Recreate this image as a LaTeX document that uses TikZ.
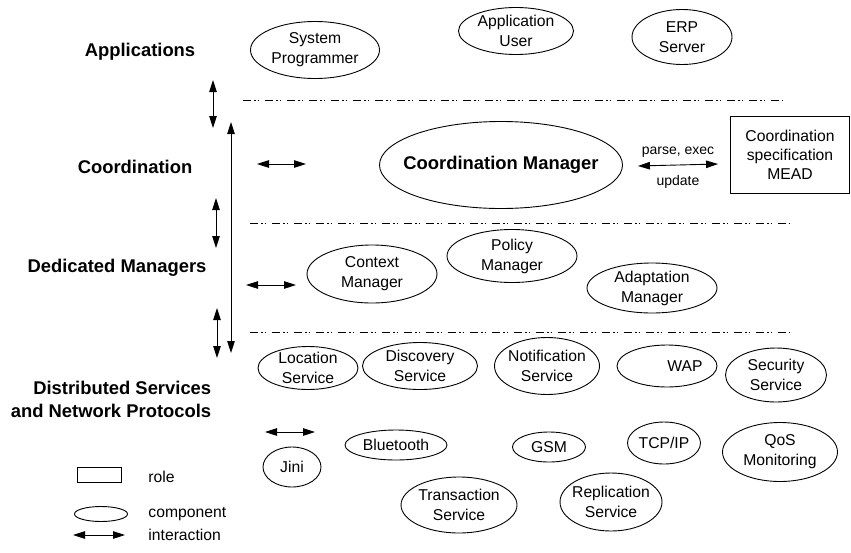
\documentclass[tikz,border=0pt]{standalone}
\usepackage{fontspec}
\setmainfont{Liberation Sans}
\usetikzlibrary{arrows.meta,shapes.geometric}

\tikzset{
  comp/.style={draw, ellipse, inner sep=-4pt, align=center,
    font=\fontsize{15.7}{20}\selectfont},
  role/.style={draw, rectangle, inner sep=0pt, align=center,
    font=\fontsize{15.7}{19}\selectfont},
  keytext/.style={anchor=west, inner sep=0pt, font=\fontsize{15.7}{20}\selectfont},
  layer/.style={font=\bfseries\fontsize{18.4}{23}\selectfont, align=right},
  small/.style={font=\fontsize{14}{16}\selectfont},
  inter/.style={{Triangle[length=12pt,width=7.5pt]}-{Triangle[length=12pt,width=7.5pt]}},
  tier/.style={dash pattern=on 8pt off 3pt on 1.5pt off 2pt on 1.5pt off 6pt}
}

\begin{document}
\begin{tikzpicture}[x=1pt, y=-1pt, line width=0.9pt]
\useasboundingbox (0,0) rectangle (851,552);

% layer names
\node[layer] (Lapp) at (140,52) {Applications};
\node[layer] (Lcoord) at (135,167) {Coordination};
\node[layer] (Lded) at (117,268) {Dedicated Managers};
\node[layer, anchor=east] (Ldist) at (215,399) {Distributed Services\\and Network Protocols};

% applications
\node[comp, minimum width=129, minimum height=57] (sysprog) at (315,50) {System\\Programmer};
\node[comp, minimum width=115, minimum height=47] (appuser) at (516,31) {Application\\User};
\node[comp, minimum width=100, minimum height=55] (erp) at (682,37) {ERP\\Server};

% coordination
\node[comp, minimum width=243, minimum height=87, inner xsep=-12pt,
  font=\bfseries\fontsize{18.4}{23}\selectfont] (coordmgr) at (501,165) {Coordination Manager};
\node[role, minimum width=119, minimum height=77] (spec) at (790,155) {Coordination\\specification\\MEAD};

% dedicated managers
\node[comp, minimum width=130, minimum height=58] (context) at (372,274) {Context\\Manager};
\node[comp, minimum width=130, minimum height=53] (policy) at (512,256) {Policy\\Manager};
\node[comp, minimum width=130, minimum height=50] (adapt) at (652,288) {Adaptation\\Manager};

% services and protocols
\node[comp, minimum width=100, minimum height=43] (location) at (308,368) {Location\\Service};
\node[comp, minimum width=115, minimum height=47] (discovery) at (420,366) {Discovery\\Service};
\node[comp, minimum width=105, minimum height=57] (notif) at (547,366) {Notification\\Service};
\node[comp, minimum width=100, minimum height=42] (wap) at (667,366) {\hspace*{36pt}WAP};
\node[comp, minimum width=101, minimum height=54] (security) at (776,375) {Security\\Service};
\node[comp, minimum width=58, minimum height=40] (jini) at (292,467) {Jini};
\node[comp, minimum width=102, minimum height=30] (bluetooth) at (396,445) {Bluetooth};
\node[comp, minimum width=73, minimum height=30] (gsm) at (549,447) {GSM};
\node[comp, minimum width=73, minimum height=42] (tcpip) at (664,443) {TCP/IP};
\node[comp, minimum width=115, minimum height=59] (qos) at (780,452) {QoS\\Monitoring};
\node[comp, minimum width=116, minimum height=56] (trans) at (459,505) {Transaction\\Service};
\node[comp, minimum width=102, minimum height=58] (repl) at (611,502) {Replication\\Service};

% legend
\node[role, minimum width=44, minimum height=15] (keyrole) at (99,475) {};
\node[comp, minimum width=53, minimum height=15] (keycomp) at (101,514) {};
\node[keytext] (trole) at (148,477) {role};
\node[keytext] (tcomp) at (148,514) {component};
\node[keytext] (tinter) at (148,535) {interaction};

% separators
\coordinate (s1a) at (243,100); \coordinate (s1b) at (783,100);
\coordinate (s2a) at (250,223); \coordinate (s2b) at (790,223);
\coordinate (s3a) at (250,332); \coordinate (s3b) at (790,332);
\path[tier] (s1a) edge (s1b) (s2a) edge (s2b) (s3a) edge (s3b);

% interactions
\coordinate (v1a) at (213,80);  \coordinate (v1b) at (213,128);
\coordinate (v2a) at (231,122); \coordinate (v2b) at (231,353);
\coordinate (v3a) at (216,198); \coordinate (v3b) at (216,248);
\coordinate (v4a) at (217,308); \coordinate (v4b) at (217,358);
\coordinate (h1a) at (257,164); \coordinate (h1b) at (306,164);
\coordinate (h2a) at (246,285); \coordinate (h2b) at (296,285);
\coordinate (h3a) at (265,432); \coordinate (h3b) at (315,432);
\coordinate (k1a) at (73,535);  \coordinate (k1b) at (125,535);
\path[inter]
(v1a) edge (v1b)
(v2a) edge (v2b)
(v3a) edge (v3b)
(v4a) edge (v4b)
(h1a) edge (h1b)
(h2a) edge (h2b)
(h3a) edge (h3b)
(k1a) edge (k1b);
\draw[inter] ([xshift=15pt,yshift=-1pt]coordmgr.east) -- ([xshift=-12pt]spec.west |- 0,164)
  node[midway, above=4pt, small] {parse, exec}
  node[midway, below=7pt, small] {update};
\end{tikzpicture}
\end{document}
